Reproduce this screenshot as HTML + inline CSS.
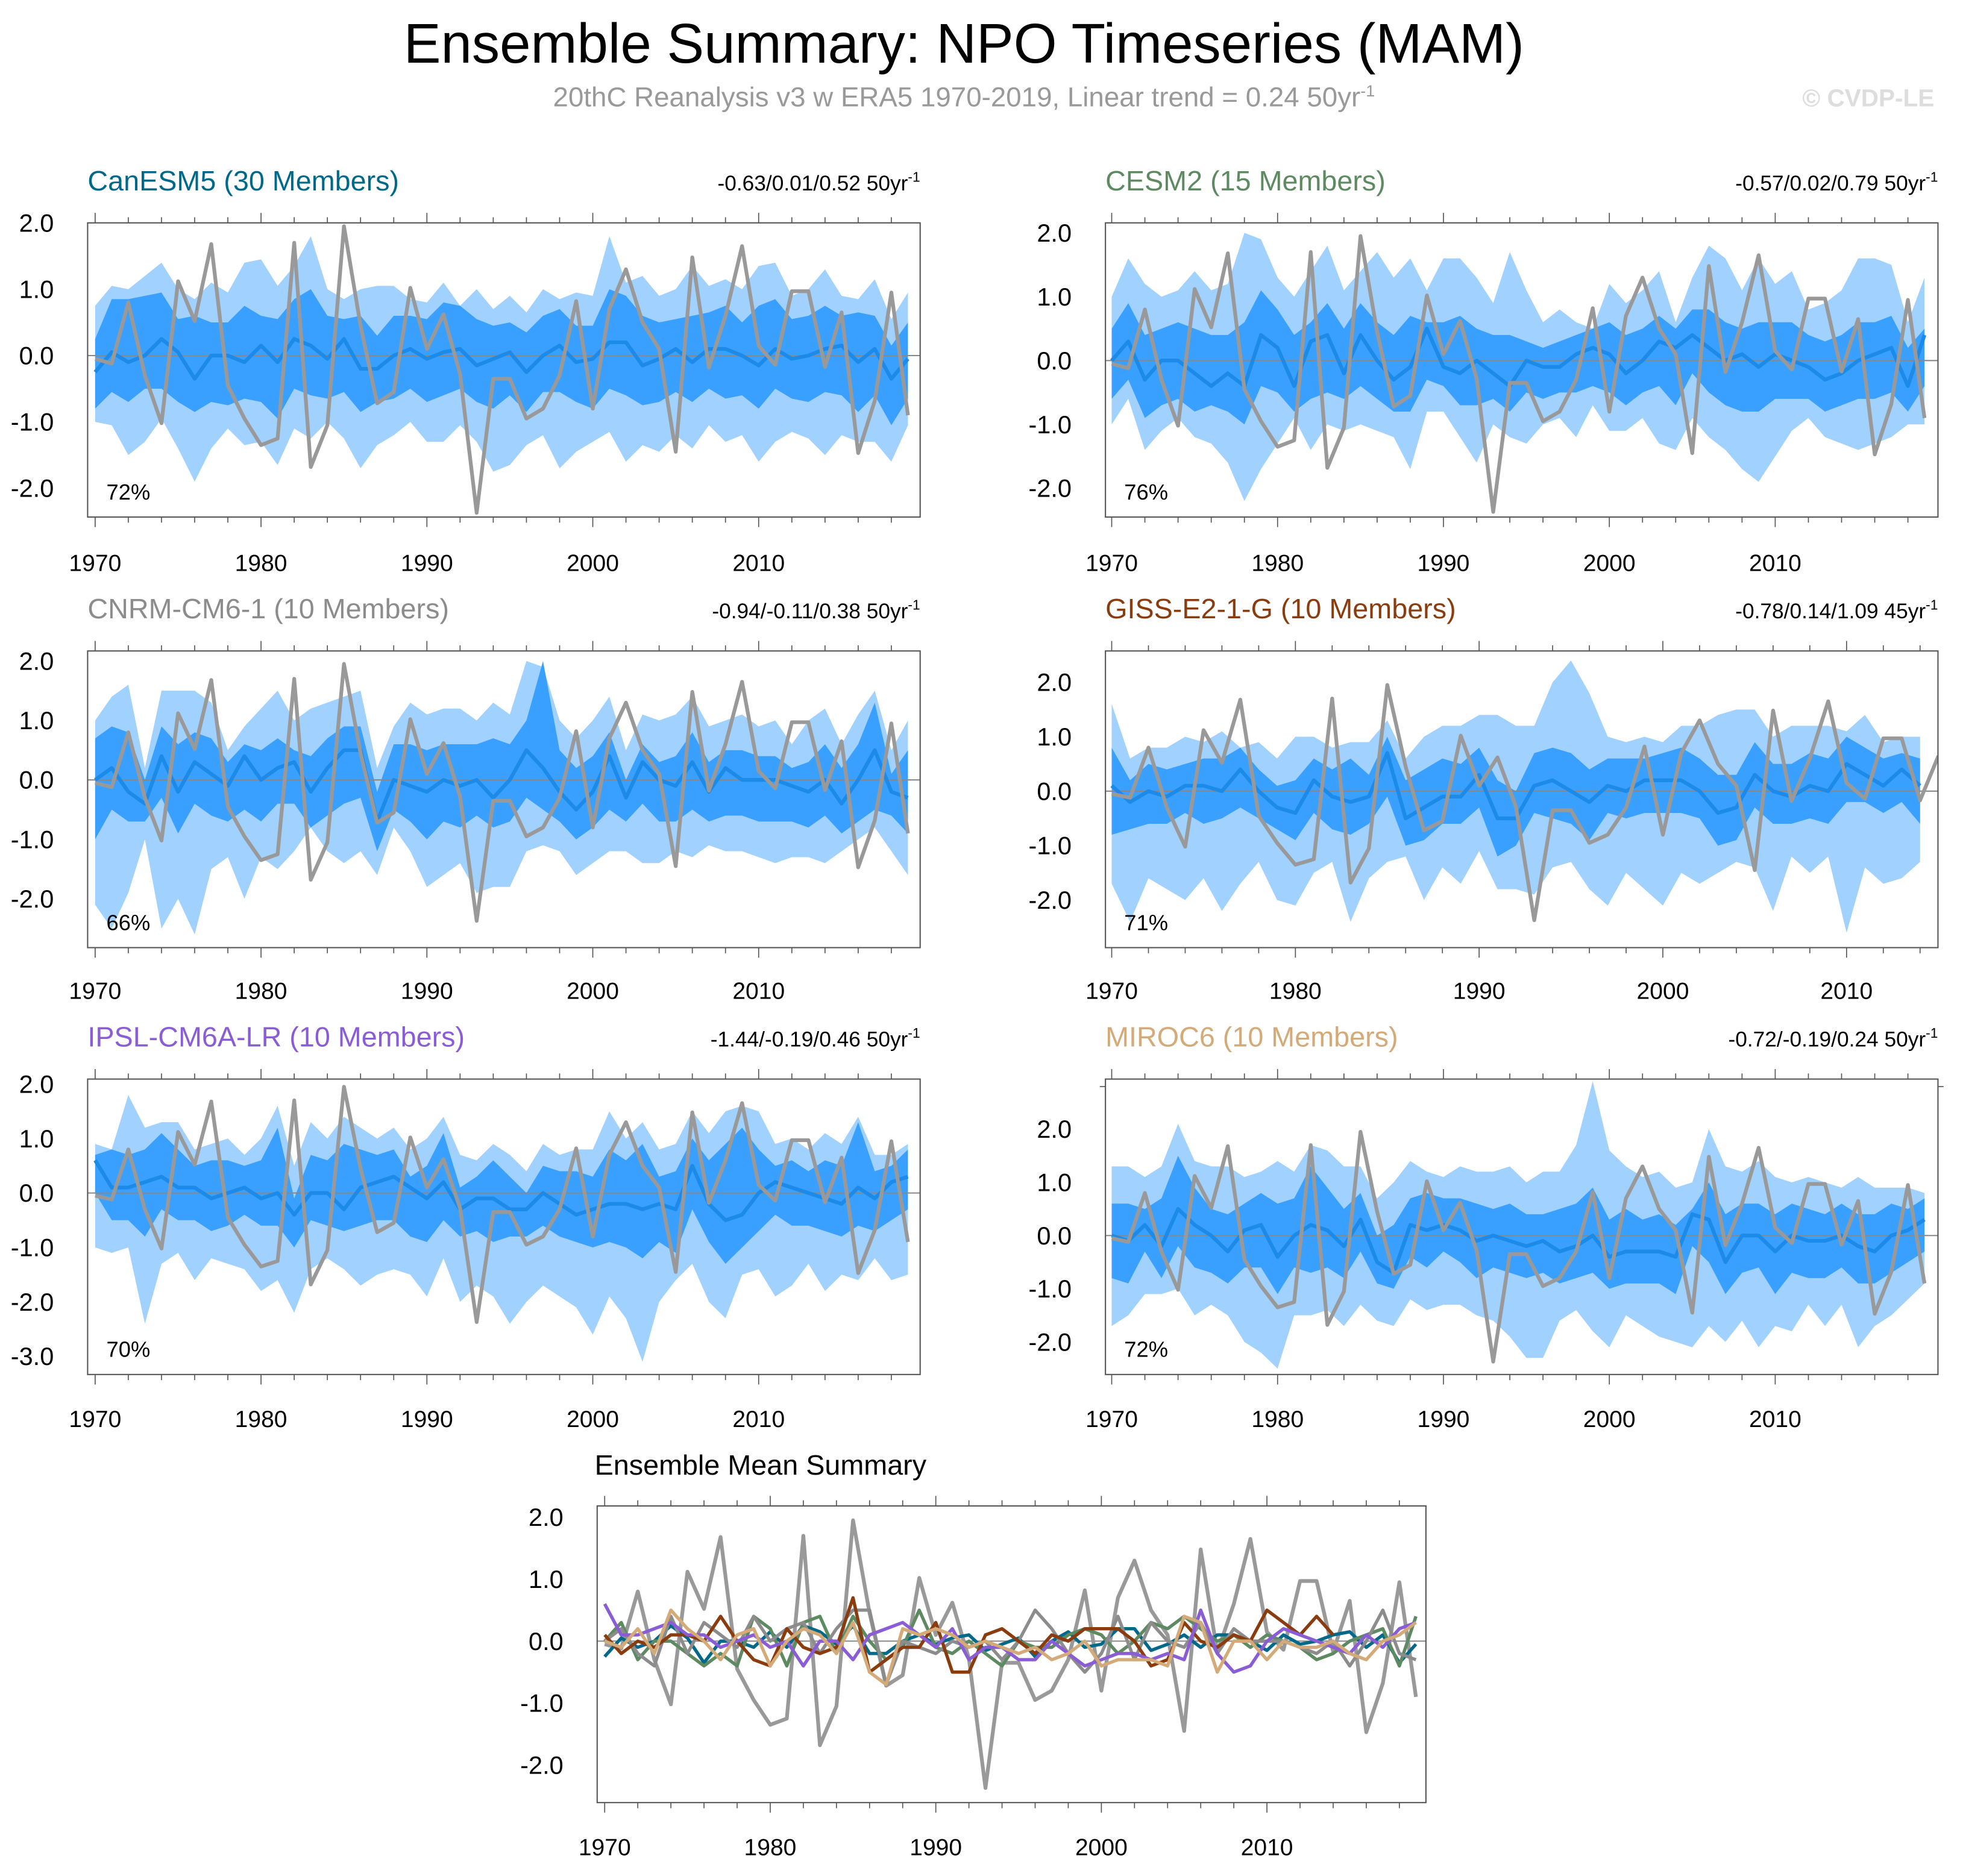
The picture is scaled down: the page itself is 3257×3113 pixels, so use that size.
<!DOCTYPE html>
<html><head><meta charset="utf-8"><style>
html,body{margin:0;padding:0;background:#fff}
svg{display:block}
text{font-family:"Liberation Sans",sans-serif}
</style></head><body>
<svg id="chart" xmlns="http://www.w3.org/2000/svg" width="3257" height="3113" viewBox="0 0 1568 1498.6">
<text x="770" y="50" font-size="44.5" text-anchor="middle" fill="#000">Ensemble Summary: NPO Timeseries (MAM)</text>
<text x="770" y="85" font-size="22" text-anchor="middle" fill="#999">20thC Reanalysis v3 w ERA5 1970-2019, Linear trend = 0.24 50yr<tspan dy="-8" font-size="13">-1</tspan></text>
<text x="1545" y="85" font-size="19.5" font-weight="bold" text-anchor="end" fill="#ddd">© CVDP-LE</text>
<g id="plots"></g>
</svg>
<script>
const years = [1970,1971,1972,1973,1974,1975,1976,1977,1978,1979,1980,1981,1982,1983,1984,1985,1986,1987,1988,1989,1990,1991,1992,1993,1994,1995,1996,1997,1998,1999,2000,2001,2002,2003,2004,2005,2006,2007,2008,2009,2010,2011,2012,2013,2014,2015,2016,2017,2018,2019];
const obs = [-0.05,-0.12,0.8,-0.3,-1.02,1.12,0.52,1.68,-0.45,-0.95,-1.35,-1.25,1.7,-1.68,-1.05,1.95,0.45,-0.72,-0.55,1.02,0.1,0.62,-0.28,-2.37,-0.35,-0.35,-0.95,-0.8,-0.3,0.82,-0.8,0.7,1.3,0.5,0.1,-1.45,1.48,-0.18,0.6,1.65,0.15,-0.14,0.97,0.97,-0.17,0.65,-1.47,-0.68,0.95,-0.9];
// values in tenths
const canMean = [-2.5,0.5,-1,0,2.5,0.5,-3.5,0,0,-1,1.5,-1,2.5,1.5,-0.5,2.5,-2,-2,0,1,-0.5,0.5,1,-1.5,-0.5,0.5,-2.5,0,1.5,-1,-0.5,2,2,-1.5,-0.5,1,-1,1,1,0,-1.5,1,-0.5,0,1,1.5,-1,1,-3.5,-0.5];
const canLtHi = [7.5,10.5,10,12,14,10,8.5,11,9.5,14,14.5,10.5,13.5,18,10,8.5,10,10.5,10.5,8.5,8,11,7.5,10,7,9,6.5,10,8.5,9.5,9,18,11,12,9,10,13.5,10.5,11.5,10,13.5,14,9,10,13,9,8.5,11.5,5.5,9.5];
const canLtLo = [-10,-10.5,-15,-13,-9.5,-14,-19,-14,-11,-13.5,-13,-16.5,-11,-12.5,-10,-12.5,-17,-13.5,-12,-10,-13,-13,-10.5,-13,-17.5,-16.5,-13.5,-12,-17,-14.5,-13,-11.5,-16,-13.5,-14.5,-12,-14,-10.5,-13,-12,-16,-13,-11.5,-12.5,-15,-12,-13,-13,-16,-10.5];
const canDkHi = [2.5,8.5,8.5,9,9.5,5.5,6,5,5,7.5,6,5.5,8.5,10,6,5.5,6,3,6,6,5.5,8,7.5,5.5,4.5,5,3.5,6,7,4.5,4.5,10,9,6,5,5.5,6,6.5,7.5,5,7.5,8.5,5.5,6,7.5,6,6.5,6,1.5,5];
const canDkLo = [-8,-5.5,-7,-5,-5,-7,-8.5,-7,-7.5,-6.5,-7,-9.5,-5,-6,-6.5,-5.5,-8.5,-7,-6.5,-5,-7,-6,-5,-7,-8,-6,-8.5,-5.5,-5.5,-7,-8,-5,-6,-7.5,-7,-5.5,-7,-5,-6.5,-6,-8,-5,-6.5,-7,-5.5,-6,-8.5,-6,-10.5,-6.5];
const cesMean = [0,3,-3,0,0,-2,-4,-2,-4,4,2,-4,3,4,-2,4,0,-3,-1,5,-1,-2,0,-2,-4,0,-1,-1,1,2,1,-2,0,3,2,4,2,0,1,-1,1,0,-1,-3,-2,0,1,2,-4,4];
const cesLtHi = [10,16,12,10,11,14,11,12,20,19,13,10,14,18,11,14,17,13,16,11,16,16,13,9,17,11,6,8,6,5,12,9,11,14,6,13,18,16,11,16,12,14,8,9,11,16,16,15,6,13];
const cesLtLo = [-10,-6,-14,-11,-9,-12,-13,-16,-22,-17,-13,-9,-14,-10,-11,-10,-11,-12,-17,-8,-8,-12,-16,-10,-12,-13,-10,-9,-12,-7,-11,-11,-9,-13,-14,-9,-12,-14,-17,-19,-15,-11,-9,-12,-13,-14,-13,-12,-10,-10];
const cesDkHi = [5,9,4,5,6,5,4,4,6,11,8,4,6,9,5,9,6,4,7,6,6,7,5,4,4,3,2,3,4,5,6,4,5,7,5,8,8,6,5,6,6,6,4,3,4,6,6,7,2,5];
const cesDkLo = [-6,-3,-9,-7,-6,-8,-7,-8,-10,-4,-5,-8,-6,-5,-6,-4,-6,-8,-8,-3,-4,-7,-7,-6,-8,-5,-6,-5,-5,-4,-5,-7,-5,-4,-7,-2,-5,-7,-8,-8,-6,-6,-6,-8,-7,-6,-6,-5,-8,-4];
const cnrMean = [0,2,-2,-4,4,-2,3,1,-1,4,0,2,3,-2,2,5,5,-7,0,-1,-2,0,-1,0,-3,0,5,2,-2,-5,-2,4,-3,3,0,-1,3,-2,2,0,0,0,-1,-2,0,-4,0,5,-2,-3];
const cnrLtHi = [10,14,16,2,15,15,15,13,5,9,12,15,10,12,13,14,15,2,9,13,11,12,12,10,13,11,20,19,10,7,10,14,5,11,10,11,14,9,10,11,9,10,6,10,12,6,11,15,5,10];
const cnrLtLo = [-21,-25,-19,-10,-25,-20,-26,-15,-13,-20,-13,-15,-12,-8,-12,-14,-12,-16,-8,-12,-18,-16,-14,-19,-18,-18,-12,-11,-12,-16,-14,-12,-12,-14,-14,-12,-13,-11,-12,-12,-13,-14,-13,-13,-14,-12,-10,-8,-12,-16];
const cnrDkHi = [7,9,8,0,9,6,8,7,3,6,5,7,5,4,7,9,9,-2,6,6,5,6,6,6,7,6,10,20,5,2,4,8,0,6,3,4,8,3,5,5,4,4,2,3,6,2,6,13,1,5];
const cnrDkLo = [-10,-5,-7,-7,-3,-9,-4,-6,-7,-5,-7,-4,-4,-8,-6,-4,-3,-12,-5,-7,-10,-7,-8,-6,-8,-7,-3,-5,-7,-10,-8,-5,-7,-4,-7,-7,-5,-7,-6,-6,-7,-7,-7,-8,-6,-9,-7,-5,-6,-9];
const gisMean = [1,-2,0,-1,1,1,0,4,0,-3,-4,2,-1,-2,-1,7,-5,-3,-1,-1,3,-5,-5,1,2,0,-2,1,0,2,2,2,0,-4,-3,3,0,-1,1,0,5,3,1,4,1];
const gisLtHi = [16,6,8,8,10,9,11,8,9,6,10,10,8,9,9,13,6,10,12,12,14,14,12,12,20,24,18,10,9,10,9,12,12,14,15,15,10,12,12,12,11,14,9,10,10];
const gisLtLo = [-17,-24,-16,-18,-20,-16,-22,-17,-13,-20,-21,-15,-13,-24,-16,-13,-12,-20,-14,-17,-11,-18,-18,-19,-14,-13,-18,-21,-15,-18,-21,-15,-17,-15,-13,-14,-22,-12,-15,-12,-26,-14,-17,-16,-13];
const gisDkHi = [8,2,5,4,5,6,6,8,4,1,2,6,4,6,3,10,2,4,6,5,8,2,0,7,8,7,4,6,6,6,7,8,6,3,3,9,5,5,7,6,10,8,6,7,6];
const gisDkLo = [-8,-7,-6,-6,-4,-6,-5,-3,-5,-7,-9,-4,-7,-8,-6,-1,-10,-9,-6,-6,-3,-12,-10,-4,-5,-6,-9,-4,-5,-4,-4,-4,-5,-10,-9,-3,-6,-6,-5,-6,-2,-2,-4,-2,-6];
const ipsMean = [6,1,1,2,3,1,1,-1,0,1,-1,0,-4,0,0,-3,1,2,3,1,-1,2,-3,-1,-1,-3,-3,0,-2,-4,-3,-2,-2,-3,-2,-3,5,-2,-5,-4,0,2,1,0,-1,-2,1,-1,2,3];
const ipsLtHi = [9,8,18,12,13,13,8,9,10,7,10,16,5,13,10,14,12,10,12,8,10,14,7,6,9,7,4,9,7,8,8,15,10,13,8,9,15,11,15,16,15,9,10,8,11,9,14,7,7,9];
const ipsLtLo = [-10,-11,-10,-24,-13,-11,-16,-12,-13,-14,-18,-16,-22,-14,-12,-14,-17,-15,-14,-15,-19,-12,-20,-17,-19,-24,-20,-17,-19,-21,-26,-19,-23,-31,-20,-16,-13,-20,-23,-15,-14,-19,-17,-13,-18,-15,-16,-12,-16,-15];
const ipsDkHi = [7,8,7,8,11,8,5,6,6,5,6,12,-1,7,6,9,8,7,8,3,5,11,1,3,6,3,0,5,4,4,3,8,6,9,3,4,10,6,9,12,8,5,6,4,6,5,13,4,5,8];
const ipsDkLo = [0,-5,-5,-8,-3,-5,-5,-7,-6,-4,-6,-6,-10,-5,-6,-7,-6,-5,-5,-8,-9,-5,-8,-7,-9,-8,-8,-6,-8,-9,-10,-9,-10,-12,-9,-11,-3,-9,-13,-10,-7,-4,-6,-6,-7,-8,-6,-7,-5,-3];
const mirMean = [0,-1,2,-2,5,2,0,-3,1,2,-4,0,2,1,-2,3,-5,-7,2,1,2,1,-1,0,-1,-2,-1,-3,-2,0,-4,-3,-3,-3,-4,4,3,-5,0,0,-3,0,-1,-1,0,-2,-3,0,1,3];
const mirLtHi = [13,13,11,13,21,14,13,13,11,12,14,12,17,16,13,13,7,10,14,12,11,13,12,12,13,10,12,12,17,29,16,13,11,12,9,10,20,13,12,14,11,10,11,10,9,11,9,9,9,8];
const mirLtLo = [-17,-15,-11,-11,-10,-15,-13,-15,-20,-22,-25,-15,-15,-14,-17,-13,-16,-17,-12,-14,-13,-13,-15,-16,-19,-23,-23,-16,-14,-18,-21,-15,-17,-19,-20,-21,-17,-20,-16,-21,-17,-18,-13,-17,-13,-21,-17,-15,-12,-9];
const mirDkHi = [6,6,5,7,15,9,5,4,6,8,6,7,13,9,5,8,0,2,7,8,7,7,6,5,6,4,4,5,6,9,3,5,3,4,2,5,10,4,6,6,4,6,5,4,6,4,4,6,5,7];
const mirDkLo = [-8,-9,-3,-8,-2,-6,-7,-9,-6,-6,-11,-6,-7,-6,-8,-3,-9,-10,-4,-6,-3,-5,-8,-6,-7,-8,-7,-9,-8,-7,-10,-9,-9,-9,-11,-2,-5,-11,-7,-6,-11,-7,-8,-8,-6,-9,-9,-7,-5,-3];
const yTickLabelsA = ["2.0","1.0","0.0","-1.0","-2.0"];
const yTickLabelsB = ["2.0","1.0","0.0","-1.0","-2.0","-3.0"];
const xTickLabels = ["1970","1980","1990","2000","2010"];

const NS="http://www.w3.org/2000/svg";
const root=document.getElementById('plots');
function mk(tag,attrs,parent){const e=document.createElementNS(NS,tag);for(const k in attrs)e.setAttribute(k,attrs[k]);(parent||root).appendChild(e);return e;}

const panels=[
 {id:'canesm5',title:'CanESM5 (30 Members)',color:'#00698a',trend:'-0.63/0.01/0.52 50yr',pct:'72%',x0:70,x1:735,y0:178,y1:413,px0:76,ppy:13.25,zy:284,ppu:53,mean:canMean,lh:canLtHi,ll:canLtLo,dh:canDkHi,dl:canDkLo,n:50,ticks:yTickLabelsA,tickVals:[2,1,0,-1,-2],xl:456},
 {id:'cesm2',title:'CESM2 (15 Members)',color:'#5e8a62',trend:'-0.57/0.02/0.79 50yr',pct:'76%',x0:883,x1:1548,y0:178,y1:413,px0:888,ppy:13.25,zy:288,ppu:51,mean:cesMean,lh:cesLtHi,ll:cesLtLo,dh:cesDkHi,dl:cesDkLo,n:50,ticks:yTickLabelsA,tickVals:[2,1,0,-1,-2],xl:456},
 {id:'cnrm',title:'CNRM-CM6-1 (10 Members)',color:'#8c8c8c',trend:'-0.94/-0.11/0.38 50yr',pct:'66%',x0:70,x1:735,y0:520,y1:757,px0:76,ppy:13.25,zy:623,ppu:47.5,mean:cnrMean,lh:cnrLtHi,ll:cnrLtLo,dh:cnrDkHi,dl:cnrDkLo,n:50,ticks:yTickLabelsA,tickVals:[2,1,0,-1,-2],xl:798},
 {id:'giss',title:'GISS-E2-1-G (10 Members)',color:'#8b3c0f',trend:'-0.78/0.14/1.09 45yr',pct:'71%',x0:883,x1:1548,y0:520,y1:757,px0:888,ppy:14.675,zy:632,ppu:43.5,mean:gisMean,lh:gisLtHi,ll:gisLtLo,dh:gisDkHi,dl:gisDkLo,n:45,ticks:yTickLabelsA,tickVals:[2,1,0,-1,-2],xl:798},
 {id:'ipsl',title:'IPSL-CM6A-LR (10 Members)',color:'#8a5cd6',trend:'-1.44/-0.19/0.46 50yr',pct:'70%',x0:70,x1:735,y0:862,y1:1098,px0:76,ppy:13.25,zy:953,ppu:43.5,mean:ipsMean,lh:ipsLtHi,ll:ipsLtLo,dh:ipsDkHi,dl:ipsDkLo,n:50,ticks:yTickLabelsB,tickVals:[2,1,0,-1,-2,-3],xl:1140},
 {id:'miroc6',title:'MIROC6 (10 Members)',color:'#d4aa78',trend:'-0.72/-0.19/0.24 50yr',pct:'72%',x0:883,x1:1548,y0:862,y1:1098,px0:888,ppy:13.25,zy:987,ppu:42.5,mean:mirMean,lh:mirLtHi,ll:mirLtLo,dh:mirDkHi,dl:mirDkLo,n:50,ticks:yTickLabelsA,tickVals:[2,1,0,-1,-2],xl:1140}
];

function axes(g,p,name){
 const X=v=>p.px0+(v-1970)*p.ppy, Y=v=>p.zy-v*p.ppu;
 const vmin=(p.zy-p.y1)/-p.ppu, vmax=(p.zy-p.y0)/p.ppu;
 for(let v=Math.ceil(vmin*5)/5; v<=vmax+1e-6; v+=0.2){
  const r=Math.round(v*5)/5, major=Math.abs(r-Math.round(r))<1e-6, L=major?8:4.5, y=Y(r);
  mk('line',{x1:p.x0-L,x2:p.x0,y1:y,y2:y,stroke:'#555','stroke-width':0.8},g);
  mk('line',{x1:p.x1,x2:p.x1+L,y1:y,y2:y,stroke:'#555','stroke-width':0.8},g);
 }
 const yrMax=1970+(p.x1-p.px0)/p.ppy;
 for(let yr=1970; yr<=yrMax; yr+=2){
  const major=yr%10==0, L=major?8:4.5, x=X(yr);
  mk('line',{x1:x,x2:x,y1:p.y0-L,y2:p.y0,stroke:'#555','stroke-width':0.8},g);
  mk('line',{x1:x,x2:x,y1:p.y1,y2:p.y1+L,stroke:'#555','stroke-width':0.8},g);
 }
 p.tickVals.forEach((v,i)=>{const t=mk('text',{x:p.x0-27,y:Y(v)+7,'font-size':20,'text-anchor':'end',fill:'#000'},g);t.textContent=p.ticks[i];
  
  });
 xTickLabels.forEach(s=>{const t=mk('text',{x:X(+s),y:p.xl,'font-size':18.8,'text-anchor':'middle',fill:'#000'},g);t.textContent=s;
  
  });
 const b=mk('rect',{x:p.x0,y:p.y0,width:p.x1-p.x0,height:p.y1-p.y0,fill:'none',stroke:'#555','stroke-width':1},g);
 
 
}

function linePath(arr,X,Y,scale,n){return arr.slice(0,n).map((v,i)=>(i?'L':'M')+X(1970+i).toFixed(2)+','+Y(v*scale).toFixed(2)).join('');}
function bandPath(hi,lo,X,Y,n){let d='';for(let i=0;i<n;i++)d+=(i?'L':'M')+X(1970+i)+','+Y(hi[i]/10);for(let i=n-1;i>=0;i--)d+='L'+X(1970+i)+','+Y(lo[i]/10);return d+'Z';}

panels.forEach(p=>{
 const g=mk('g',{});
 
 
 const cid='clip-'+p.id;
 const cp=mk('clipPath',{id:cid},g); mk('rect',{x:p.x0,y:p.y0,width:p.x1-p.x0,height:p.y1-p.y0},cp);
 const X=v=>p.px0+(v-1970)*p.ppy, Y=v=>p.zy-v*p.ppu;
 const inner=mk('g',{'clip-path':'url(#'+cid+')'},g);
 const lb=mk('path',{d:bandPath(p.lh,p.ll,X,Y,p.n),fill:'#a0d1ff'},inner);
 
 
 const db=mk('path',{d:bandPath(p.dh,p.dl,X,Y,p.n),fill:'#3aa0ff'},inner);
 
 
 mk('line',{x1:p.x0,x2:p.x1,y1:Y(0),y2:Y(0),stroke:'#888','stroke-width':1},inner);
 const ml=mk('path',{d:linePath(p.mean,X,Y,0.1,p.n),fill:'none',stroke:'#1c8ae8','stroke-width':3,'stroke-linejoin':'round'},inner);
 
 
 const ol=mk('path',{d:linePath(obs,X,Y,1,Math.min(50,p.n+1)),fill:'none',stroke:'#999','stroke-width':3,'stroke-linejoin':'round'},inner);
 
 
 axes(g,p,p.id);
 const t=mk('text',{x:p.x0,y:p.y0-26,'font-size':22.5,fill:p.color},g); t.textContent=p.title;
 
 
 const tr=mk('text',{x:p.x1,y:p.y0-26,'font-size':17,'text-anchor':'end',fill:'#000'},g); tr.textContent=p.trend;
 const sup=mk('tspan',{dy:-7,'font-size':11},tr); sup.textContent='-1';
 
 
 const pc=mk('text',{x:p.x0+15,y:p.y1-14,'font-size':17.5,fill:'#000'},g); pc.textContent=p.pct;
 
 
});

(function(){
 const p={x0:477,x1:1139,y0:1203,y1:1440,px0:483,ppy:13.225,zy:1311,ppu:49.5,ticks:yTickLabelsA,tickVals:[2,1,0,-1,-2],xl:1482};
 const g=mk('g',{});
 
 
 const X=v=>p.px0+(v-1970)*p.ppy, Y=v=>p.zy-v*p.ppu;
 mk('line',{x1:p.x0,x2:p.x1,y1:Y(0),y2:Y(0),stroke:'#888','stroke-width':1},g);
 const ol=mk('path',{d:linePath(obs,X,Y,1,50),fill:'none',stroke:'#999','stroke-width':3,'stroke-linejoin':'round'},g);
 
 
 panels.forEach(q=>{
  const l=mk('path',{d:linePath(q.mean,X,Y,0.1,q.n),fill:'none',stroke:q.color,'stroke-width':2.6,'stroke-linejoin':'round'},g);
  
  
 });
 axes(g,p,'summary');
 const t=mk('text',{x:475,y:1178,'font-size':22.5,fill:'#000'},g); t.textContent='Ensemble Mean Summary';
 
 
})();
</script>
</body></html>
